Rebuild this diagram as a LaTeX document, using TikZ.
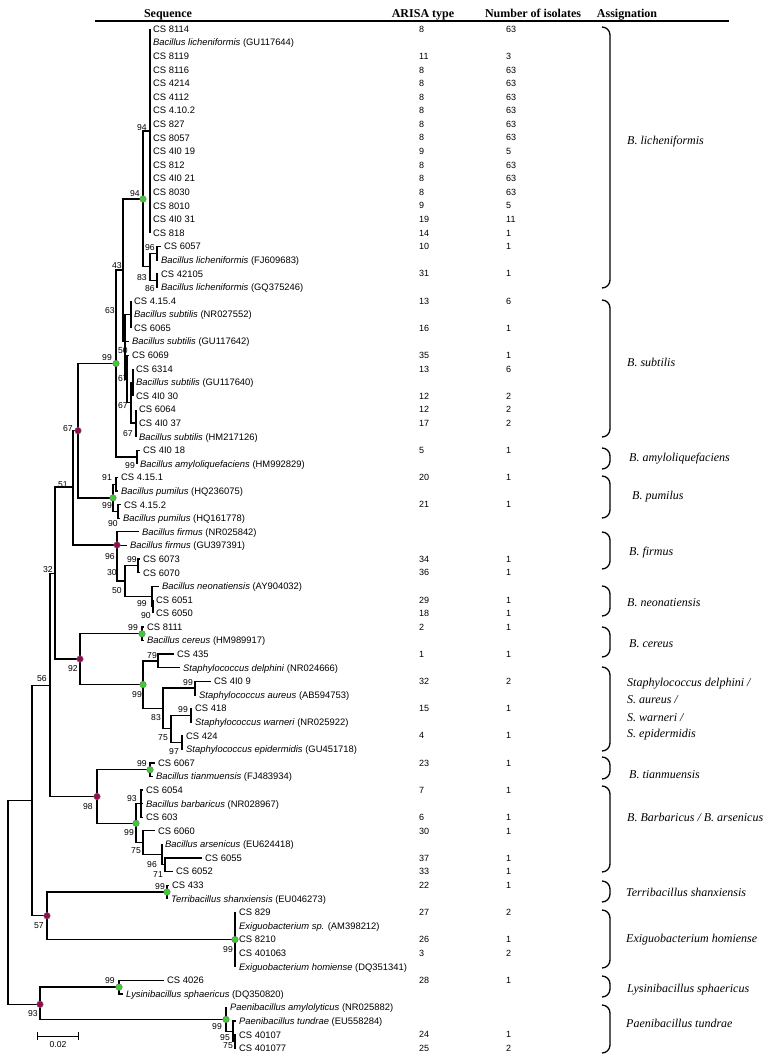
\documentclass[tikz,border=0pt]{standalone}
\usepackage{fontspec}
\setmainfont{Liberation Serif}
\newfontfamily\arial{Liberation Sans}
\definecolor{verde}{RGB}{60,205,50}
\definecolor{morado}{RGB}{150,10,80}
\newcommand{\esp}[1]{\textit{#1}}

\begin{document}
\begin{tikzpicture}[x=1pt,y=-1pt,
    rama/.style={line width=1.3pt},
    hoja/.style={anchor=west,inner xsep=3pt,inner ysep=0pt,font=\arial\fontsize{9.4}{10}\selectfont,text height=6.8pt,text depth=0pt},
    boot/.style={inner sep=0pt,font=\arial\fontsize{8.6}{9}\selectfont,text height=6.2pt,text depth=0pt},
    col/.style={anchor=west,inner sep=0pt,font=\arial\fontsize{9}{10}\selectfont,text height=6.5pt,text depth=0pt},
    cab/.style={inner sep=0pt,font=\bfseries\fontsize{12}{14}\selectfont,text height=8pt,text depth=0pt},
    asig/.style={anchor=west,inner sep=0pt,font=\itshape\fontsize{12}{14}\selectfont,text height=8pt,text depth=0pt},
    llave/.style={line width=1.3pt},
    gnodo/.style={fill=verde,draw=black!55,line width=0.4pt},
    pnodo/.style={fill=morado,draw=black!55,line width=0.4pt}]

    \def\ytop{29}%Primera fila
    \def\dy{13.59}%Paso entre filas

    \useasboundingbox (0,0) rectangle (772,1058);

    %Cabecera
    \node[cab] (hseq) at (168,13) {Sequence};
    \node[cab] (harisa) at (423,13) {ARISA type};
    \node[cab] (hnum) at (533,13) {Number of isolates};
    \node[cab] (hasig) at (627,13) {Assignation};
    \draw[line width=1.3pt] (95,21)--(729,21);

    %Hojas
    \foreach \i/\xx/\txt in {1/150/CS 8114, 2/150/\esp{Bacillus licheniformis} (GU117644), 3/150/CS 8119,
        4/150/CS 8116, 5/150/CS 4214, 6/150/CS 4112, 7/150/CS 4.10.2, 8/150/CS 827, 9/150/CS 8057,
        10/150/CS 4I0 19, 11/150/CS 812, 12/150/CS 4I0 21, 13/150/CS 8030, 14/150/CS 8010,
        15/150/CS 4I0 31, 16/150/CS 818, 17/161/CS 6057, 18/158/\esp{Bacillus licheniformis} (FJ609683),
        19/158/CS 42105, 20/158/\esp{Bacillus licheniformis} (GQ375246), 21/131/CS 4.15.4,
        22/131/\esp{Bacillus subtilis} (NR027552), 23/131/CS 6065, 24/129/\esp{Bacillus subtilis} (GU117642),
        25/129/CS 6069, 26/133/CS 6314, 27/133/\esp{Bacillus subtilis} (GU117640), 28/133/CS 4I0 30,
        29/136/CS 6064, 30/136/CS 4I0 37, 31/136/\esp{Bacillus subtilis} (HM217126), 32/140/CS 4I0 18,
        33/137/\esp{Bacillus amyloliquefaciens} (HM992829), 34/118/CS 4.15.1,
        35/118/\esp{Bacillus pumilus} (HQ236075), 36/121/CS 4.15.2, 37/120/\esp{Bacillus pumilus} (HQ161778),
        38/139/\esp{Bacillus firmus} (NR025842), 39/127/\esp{Bacillus firmus} (GU397391),
        40/140/CS 6073, 41/140/CS 6070, 42/159/\esp{Bacillus neonatiensis} (AY904032),
        43/153/CS 6051, 44/153/CS 6050, 45/144/CS 8111, 46/144/\esp{Bacillus cereus} (HM989917),
        47/174/CS 435, 48/180/\esp{Staphylococcus delphini} (NR024666), 49/211/CS 4I0 9,
        50/196/\esp{Staphylococcus aureus} (AB594753), 51/192/CS 418,
        52/192/\esp{Staphylococcus warneri} (NR025922), 53/183/CS 424,
        54/183/\esp{Staphylococcus epidermidis} (GU451718), 55/155/CS 6067,
        56/153/\esp{Bacillus tianmuensis} (FJ483934), 57/143/CS 6054,
        58/143/\esp{Bacillus barbaricus} (NR028967), 59/143/CS 603, 60/155/CS 6060,
        61/162/\esp{Bacillus arsenicus} (EU624418), 62/202/CS 6055, 63/173/CS 6052, 64/169/CS 433,
        65/168/\esp{Terribacillus shanxiensis} (EU046273), 66/236/CS 829,
        67/236/\esp{Exiguobacterium sp.} (AM398212), 68/236/CS 8210, 69/236/CS 401063,
        70/236/\esp{Exiguobacterium homiense} (DQ351341), 71/164/CS 4026,
        72/123/\esp{Lysinibacillus sphaericus} (DQ350820), 73/227/\esp{Paenibacillus amylolyticus} (NR025882),
        74/236/\esp{Paenibacillus tundrae} (EU558284), 75/236/CS 40107, 76/236/CS 401077}
        \node[hoja] (l\i) at (\xx,{\ytop+(\i-1)*\dy}) {\txt};

    %Columnas ARISA y aislados
    \foreach \i/\a/\n in {1/8/63, 3/11/3, 4/8/63, 5/8/63, 6/8/63, 7/8/63, 8/8/63, 9/8/63, 10/9/5,
        11/8/63, 12/8/63, 13/8/63, 14/9/5, 15/19/11, 16/14/1, 17/10/1, 19/31/1, 21/13/6, 23/16/1,
        25/35/1, 26/13/6, 28/12/2, 29/12/2, 30/17/2, 32/5/1, 34/20/1, 36/21/1, 40/34/1, 41/36/1,
        43/29/1, 44/18/1, 45/2/1, 47/1/1, 49/32/2, 51/15/1, 53/4/1, 55/23/1, 57/7/1, 59/6/1,
        60/30/1, 62/37/1, 63/33/1, 64/22/1, 66/27/2, 68/26/1, 69/3/2, 71/28/1, 75/24/1, 76/25/2}{
        \node[col] (ar\i) at (419,{\ytop+(\i-1)*\dy}) {\a};
        \node[col] (ni\i) at (506,{\ytop+(\i-1)*\dy}) {\n};
    }

    %Nodos internos
    \coordinate (R) at (8,902.3);
    \coordinate (A) at (32,800.4);
    \coordinate (n56) at (50,685.2);
    \coordinate (n57) at (47,915.8);
    \coordinate (n93) at (40,1004.3);
    \coordinate (n32) at (55,573.2);
    \coordinate (n98) at (97,796.5);
    \coordinate (n51) at (73,487);
    \coordinate (n92) at (80,659);
    \coordinate (n67) at (78,430.7);
    \coordinate (nf) at (117,545);
    \coordinate (n99s) at (116,363.5);
    \coordinate (npum) at (113,497.9);
    \coordinate (n43) at (123,270);
    \coordinate (n99b) at (137,457.1);
    \coordinate (n94b) at (143,199);
    \coordinate (nsub) at (125,341);
    \coordinate (p1) at (150,131);
    \coordinate (n83l) at (150,266.7);
    \coordinate (n96l) at (157,253.2);
    \coordinate (n86l) at (157,280.4);
    \coordinate (t1) at (131,314.4);
    \coordinate (nb) at (127,379);
    \coordinate (n67c) at (131,402.8);
    \coordinate (t2) at (133,382.4);
    \coordinate (t3) at (136,423.1);
    \coordinate (n91) at (116,484.3);
    \coordinate (n90p) at (118,511.5);
    \coordinate (n50) at (125,581.1);
    \coordinate (n99c) at (138,565.8);
    \coordinate (n99d) at (152,596.4);
    \coordinate (n90n) at (153,606.6);
    \coordinate (ncer) at (142,633.8);
    \coordinate (nst) at (143,684.5);
    \coordinate (n79) at (158,661);
    \coordinate (n83s) at (163,708.3);
    \coordinate (n99a) at (195,688.1);
    \coordinate (n75s) at (171,728.6);
    \coordinate (n99w) at (191,715.3);
    \coordinate (n97) at (182,742.5);
    \coordinate (ntian) at (150,769.7);
    \coordinate (nbar) at (136,823.3);
    \coordinate (p93) at (141,803.7);
    \coordinate (n75b) at (143,842.7);
    \coordinate (n96b) at (162,854.6);
    \coordinate (n71) at (165,864.8);
    \coordinate (n99t) at (167,892);
    \coordinate (nexi) at (235,939.6);
    \coordinate (nlys) at (119,987.1);
    \coordinate (npae) at (226,1019.4);
    \coordinate (n95) at (233,1031.3);
    \coordinate (n75p) at (235,1041.5);

    %Ramas
    \foreach \i in {1,...,16}
        \draw[rama] (p1) |- (l\i);
    \foreach \i in {66,...,70}
        \draw[rama] (nexi) |- (l\i);
    \foreach \p/\c in {R/A, R/n93, A/n56, A/n57, n56/n32, n56/n98, n32/n51, n32/n92,
        n51/n67, n51/nf, n67/n99s, n67/npum, n99s/n43, n99s/n99b, n43/n94b, n43/nsub,
        n94b/p1, n94b/n83l, n83l/n96l, n83l/n86l, n96l/l17, n96l/l18, n86l/l19, n86l/l20,
        nsub/t1, nsub/l24, nsub/nb, t1/l21, t1/l22, t1/l23, nb/l25, nb/n67c, n67c/t2, n67c/t3,
        t2/l26, t2/l27, t2/l28, t3/l29, t3/l30, t3/l31, n99b/l32, n99b/l33,
        npum/n91, npum/n90p, n91/l34, n91/l35, n90p/l36, n90p/l37,
        nf/l38, nf/l39, nf/n50, n50/n99c, n50/n99d, n99c/l40, n99c/l41,
        n99d/l42, n99d/n90n, n90n/l43, n90n/l44,
        n92/ncer, n92/nst, ncer/l45, ncer/l46, nst/n79, nst/n83s, n79/l47, n79/l48,
        n83s/n99a, n83s/n75s, n99a/l49, n99a/l50, n75s/n99w, n75s/n97,
        n99w/l51, n99w/l52, n97/l53, n97/l54,
        n98/ntian, n98/nbar, ntian/l55, ntian/l56, nbar/p93, nbar/n75b,
        p93/l57, p93/l58, p93/l59, n75b/l60, n75b/n96b, n96b/l61, n96b/n71, n71/l62, n71/l63,
        n57/n99t, n57/nexi, n99t/l64, n99t/l65,
        n93/nlys, n93/npae, nlys/l71, nlys/l72, npae/l73, npae/n95, n95/l74, n95/n75p,
        n75p/l75, n75p/l76}
        \draw[rama] (\p) |- (\c);

    %Puntos
    \foreach \n in {n94b,n99s,npum,ncer,nst,ntian,nbar,n99t,nexi,nlys,npae}
        \filldraw[gnodo] (\n) circle (3.3);
    \foreach \n in {n67,nf,n92,n98,n57,n93}
        \filldraw[pnodo] (\n) circle (3.3);

    %Bootstrap
    \foreach \x/\y/\b [count=\k] in {142/127/94, 135/193/94, 150/247/96, 142/277/83, 150/288/86,
        117/265/43, 110/310/63, 123/350/50, 107/357/99, 123/378/67, 123/405/67, 128/433/67,
        130/465/99, 68/428/67, 63/484/51, 107/477/91, 107/505/99, 113/523/90, 110/556/96,
        112/572/30, 117/590/50, 132/559/99, 142/603/99, 146/615/90, 48/569/32, 133/627/99,
        73/668/92, 152/655/79, 137/694/99, 188/682/99, 156/717/83, 183/709/99, 163/737/75,
        174/751/97, 42/678/56, 142/763/99, 88/806/98, 132/798/93, 129/832/99, 136/850/75,
        152/864/96, 158/874/71, 39/925/57, 160/886/99, 228/949/99, 110/980/99, 33/1013/93,
        217/1026/99, 225/1037/95, 228/1045/75}
        \node[boot] (bs\k) at (\x,\y) {\b};

    %Llaves
    \foreach \t/\b in {27/288, 300/437, 448/469, 476/518, 532/569, 586/616, 627/657, 667/751,
        757/779, 786/872, 881/902, 910/968, 976/997, 1005/1053}
        \draw[llave] (602,\t) to[out=0,in=90] (610,{\t+8})--(610,{\b-8}) to[out=-90,in=0] (602,\b);

    %Asignacion
    \node[asig] (s1) at (627,140) {B. licheniformis};
    \node[asig] (s2) at (627,362) {B. subtilis};
    \node[asig] (s3) at (629,457) {B. amyloliquefaciens};
    \node[asig] (s4) at (632,495) {B. pumilus};
    \node[asig] (s5) at (629,551) {B. firmus};
    \node[asig] (s6) at (627,602) {B. neonatiensis};
    \node[asig] (s7) at (629,643) {B. cereus};
    \node[asig] (s8a) at (627,682) {Staphylococcus delphini /};
    \node[asig] (s8b) at (627,699) {S. aureus /};
    \node[asig] (s8c) at (627,717) {S. warneri /};
    \node[asig] (s8d) at (627,733) {S. epidermidis};
    \node[asig] (s9) at (629,774) {B. tianmuensis};
    \node[asig] (s10) at (627,817) {B. Barbaricus / B. arsenicus};
    \node[asig] (s11) at (626,892) {Terribacillus shanxiensis};
    \node[asig] (s12) at (626,938) {Exiguobacterium homiense};
    \node[asig] (s13) at (627,988) {Lysinibacillus sphaericus};
    \node[asig] (s14) at (626,1023) {Paenibacillus tundrae};

    %Escala
    \coordinate (e0) at (37,1036);
    \coordinate (e1) at (79,1036);
    \draw[line width=0.8pt,|-|] (e0)--(e1) node[boot,midway,below=5pt] (escala) {0.02};
\end{tikzpicture}
\end{document}
